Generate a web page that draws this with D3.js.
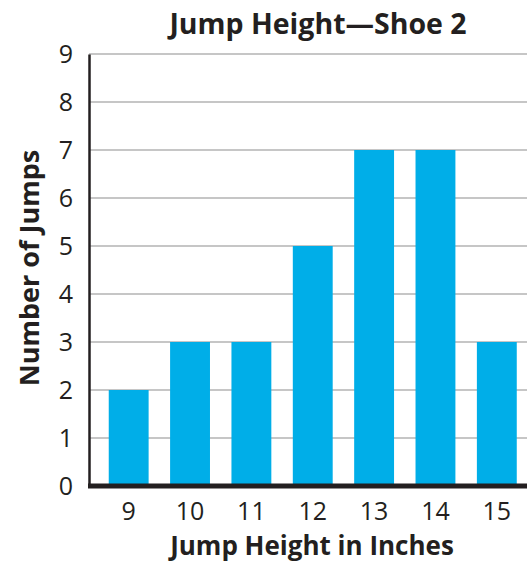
<!DOCTYPE html>
<html><head><meta charset="utf-8">
<script src="https://cdn.jsdelivr.net/npm/d3@7"></script>
<style>body{margin:0;background:#fff}svg{display:block}</style>
</head><body>
<script>
const categories = ["9","10","11","12","13","14","15"];
const values = [2,3,3,5,7,7,3];
const yTicks = [0,1,2,3,4,5,6,7,8,9];
const title = "Jump Height\u2014Shoe 2";
const xTitle = "Jump Height in Inches";
const yTitle = "Number of Jumps";

const W = 527, H = 563;
const font = "'Open Sans', sans-serif";
const ink = "#231f20";
const svg = d3.select("body").append("svg").attr("width", W).attr("height", H);

const x = d3.scaleBand().domain(categories).range([98, 527.5]).paddingInner(0.35).paddingOuter(0.175);
const y = d3.scaleLinear().domain([0, 9]).range([486, 54]);

// gridlines
svg.append("g").selectAll("line").data(yTicks.filter(d => d > 0)).join("line")
  .attr("x1", 89).attr("x2", W).attr("y1", d => y(d)).attr("y2", d => y(d))
  .attr("stroke", "#b3b3b3").attr("stroke-width", 1.5);

// bars
svg.append("g").selectAll("rect").data(values).join("rect")
  .attr("x", (d, i) => x(categories[i])).attr("width", x.bandwidth())
  .attr("y", d => y(d)).attr("height", d => y(0) - y(d))
  .attr("fill", "#00aee8");

// y axis
const yAxis = svg.append("g").attr("transform", "translate(89,0)")
  .call(d3.axisLeft(y).tickValues(yTicks).tickSize(0).tickPadding(16));
yAxis.select(".domain").attr("stroke", ink).attr("stroke-width", 2.5);
yAxis.selectAll("text").attr("font-family", font).attr("font-size", 25).attr("fill", ink);

// x axis
const xAxis = svg.append("g").attr("transform", "translate(0,486)")
  .call(d3.axisBottom(x).tickSize(0).tickPadding(16));
xAxis.select(".domain").remove();
xAxis.selectAll("text").attr("font-family", font).attr("font-size", 25).attr("fill", ink);
svg.append("line").attr("x1", 88).attr("x2", W).attr("y1", 486).attr("y2", 486)
  .attr("stroke", ink).attr("stroke-width", 5);

// titles
svg.append("text").attr("x", 318).attr("y", 34).attr("text-anchor", "middle")
  .attr("font-family", font).attr("font-weight", "bold").attr("font-size", 28.5).attr("fill", ink).text(title);
svg.append("text").attr("x", 312).attr("y", 555).attr("text-anchor", "middle")
  .attr("font-family", font).attr("font-weight", "bold").attr("font-size", 26).attr("fill", ink).text(xTitle);
svg.append("text").attr("transform", "translate(39,268) rotate(-90)").attr("text-anchor", "middle")
  .attr("font-family", font).attr("font-weight", "bold").attr("font-size", 27).attr("fill", ink).text(yTitle);
</script>
</body></html>
